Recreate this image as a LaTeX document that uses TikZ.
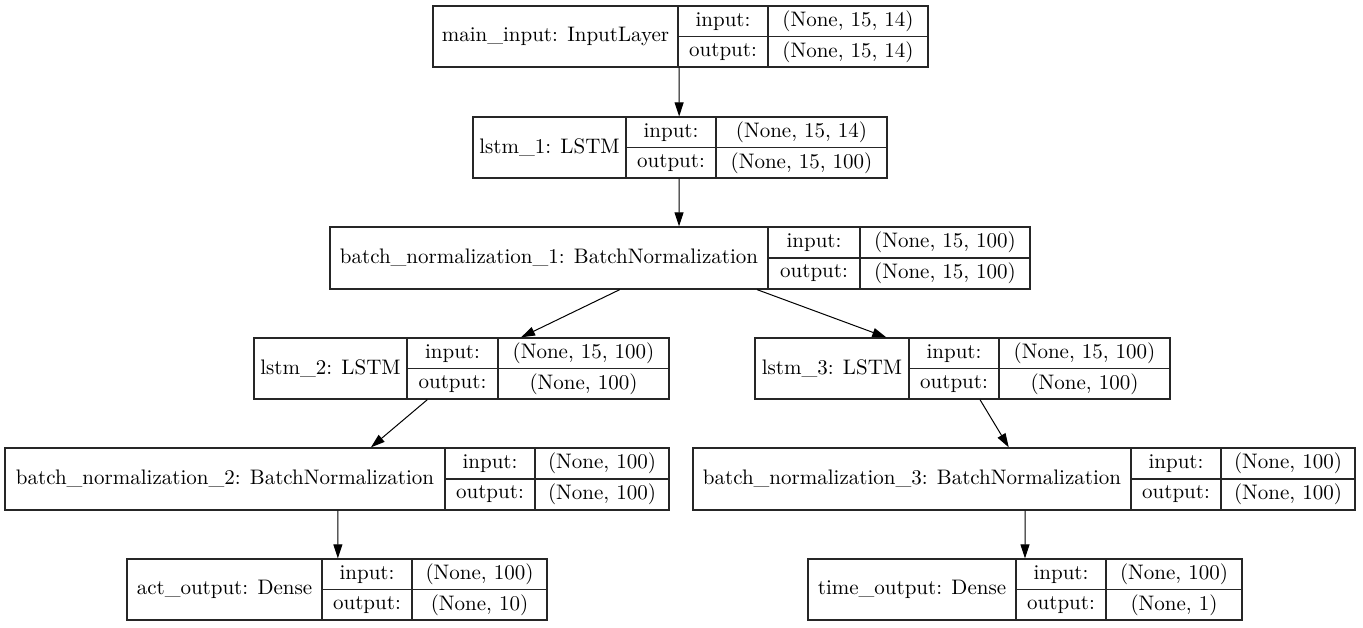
\documentclass[tikz,border=0pt]{standalone}
\usepackage{graphicx}
\usetikzlibrary{fit,calc,arrows.meta}
\newcommand{\sx}[1]{\scalebox{2.1}{\fontsize{10}{12}\selectfont #1}}
\tikzset{
  box/.style={draw=black!85, line width=1.3pt, inner sep=0pt},
  cell/.style={draw=black!85, line width=1.3pt},
  lbl/.style={inner sep=0pt},
  arr/.style={draw=black, line width=1pt, -{Triangle[length=14pt,width=9pt]}}
}
% \layerbox{name}{L}{d1}{d2}{R}{T}{B}{label}{in}
\newcommand{\layerbox}[9]{%
  \node[box, fit={(#2,#6) (#5,#7)}] (#1) {};
  \draw[cell] (#3,#6) -- (#3,#7) (#4,#6) -- (#4,#7) (#3,{(#6+#7)/2}) -- (#5,{(#6+#7)/2});
  \node[lbl] (#1-name) at ({(#2+#3)/2},{(#6+#7)/2}) {\sx{#8}};
  \node[lbl] (#1-ik) at ({(#3+#4)/2},{(3*#6+#7)/4}) {\sx{input:}};
  \node[lbl] (#1-ok) at ({(#3+#4)/2},{(#6+3*#7)/4}) {\sx{output:}};
  \node[lbl] (#1-iv) at ({(#4+#5)/2},{(3*#6+#7)/4}) {\sx{#9}};
}
\begin{document}
\begin{tikzpicture}[x=1pt,y=-1pt]
\useasboundingbox[fill=white] (0,0) rectangle (1363,627);
\layerbox{main}{433}{678}{768}{928}{6}{67}{main\_input: InputLayer}{(None, 15, 14)}
\node[lbl] (main-ov) at ({(768+928)/2},{(6+3*67)/4}) {\sx{(None, 15, 14)}};
\layerbox{lstmA}{473}{626}{716}{887}{117}{178}{lstm\_1: LSTM}{(None, 15, 14)}
\node[lbl] (lstmA-ov) at ({(716+887)/2},{(117+3*178)/4}) {\sx{(None, 15, 100)}};
\layerbox{bnA}{330}{768}{860}{1030}{227}{289}{batch\_normalization\_1: BatchNormalization}{(None, 15, 100)}
\node[lbl] (bnA-ov) at ({(860+1030)/2},{(227+3*289)/4}) {\sx{(None, 15, 100)}};
\layerbox{lstmB}{254}{407}{498}{669}{338}{399}{lstm\_2: LSTM}{(None, 15, 100)}
\node[lbl] (lstmB-ov) at ({(498+669)/2},{(338+3*399)/4}) {\sx{(None, 100)}};
\layerbox{lstmC}{755}{909}{999}{1170}{338}{399}{lstm\_3: LSTM}{(None, 15, 100)}
\node[lbl] (lstmC-ov) at ({(999+1170)/2},{(338+3*399)/4}) {\sx{(None, 100)}};
\layerbox{bnB}{5}{445}{535}{669}{448}{510}{batch\_normalization\_2: BatchNormalization}{(None, 100)}
\node[lbl] (bnB-ov) at ({(535+669)/2},{(448+3*510)/4}) {\sx{(None, 100)}};
\layerbox{bnC}{693}{1131}{1221}{1355}{448}{510}{batch\_normalization\_3: BatchNormalization}{(None, 100)}
\node[lbl] (bnC-ov) at ({(1221+1355)/2},{(448+3*510)/4}) {\sx{(None, 100)}};
\layerbox{act}{127}{322}{412}{547}{559}{620}{act\_output: Dense}{(None, 100)}
\node[lbl] (act-ov) at ({(412+547)/2},{(559+3*620)/4}) {\sx{(None, 10)}};
\layerbox{time}{808}{1016}{1106}{1242}{559}{620}{time\_output: Dense}{(None, 100)}
\node[lbl] (time-ov) at ({(1106+1242)/2},{(559+3*620)/4}) {\sx{(None, 1)}};
\draw[arr] ($(main.south west)!0.497!(main.south east)$) -- ($(lstmA.north west)!0.498!(lstmA.north east)$);
\draw[arr] ($(lstmA.south west)!0.498!(lstmA.south east)$) -- ($(bnA.north west)!0.4986!(bnA.north east)$);
\draw[arr] ($(bnA.south west)!0.414!(bnA.south east)$) -- ($(lstmB.north west)!0.643!(lstmB.north east)$);
\draw[arr] ($(bnA.south west)!0.61!(bnA.south east)$) -- ($(lstmC.north west)!0.317!(lstmC.north east)$);
\draw[arr] ($(lstmB.south west)!0.418!(lstmB.south east)$) -- ($(bnB.north west)!0.551!(bnB.north east)$);
\draw[arr] ($(lstmC.south west)!0.542!(lstmC.south east)$) -- ($(bnC.north west)!0.477!(bnC.north east)$);
\draw[arr] ($(bnB.south west)!0.5015!(bnB.south east)$) -- ($(act.north west)!0.502!(act.north east)$);
\draw[arr] ($(bnC.south west)!0.5015!(bnC.south east)$) -- ($(time.north west)!0.5!(time.north east)$);
\end{tikzpicture}
\end{document}
